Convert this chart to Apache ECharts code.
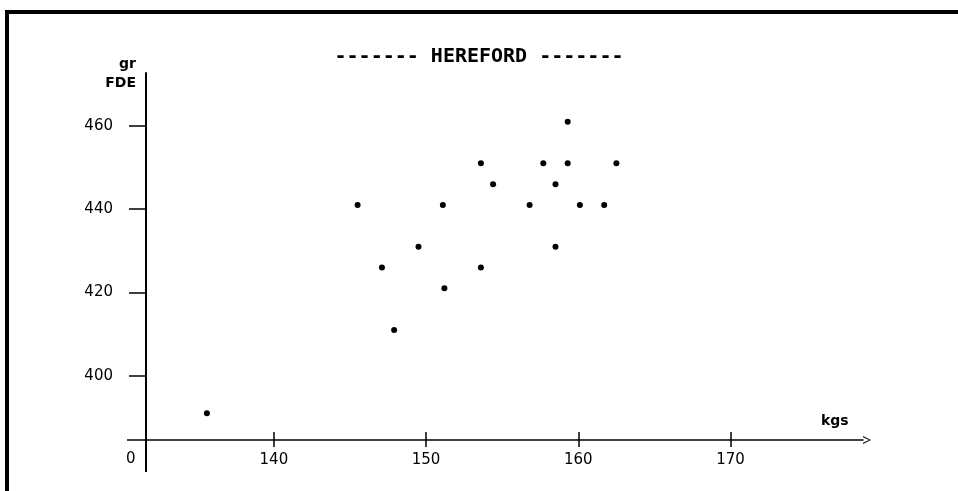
<!DOCTYPE html>
<html>
<head>
<meta charset="utf-8">
<script src="https://cdn.jsdelivr.net/npm/echarts@6/dist/echarts.min.js"></script>
<style>html,body{margin:0;padding:0;background:#fff}#c{width:958px;height:491px}</style>
</head>
<body>
<div id="c"></div>
<script>
// weight (kgs) and FDE (gr)
const kgs = [159.3,153.6,157.7,159.3,162.5,154.4,158.5,145.5,151.1,156.8,160.1,161.7,149.5,158.5,147.1,153.6,151.2,147.9,135.6];
const fde = [461,451,451,451,451,446,446,441,441,441,441,441,431,431,426,426,421,411,391];
const xTicks = [140,150,160,170];
const yTicks = [400,420,440,460];
const titleText = '------- HEREFORD -------';

const points = kgs.map((v,i)=>[v,fde[i]]);
const chart = echarts.init(document.getElementById('c'));
const font = 'DejaVu Sans';
chart.setOption({
  animation:false,
  backgroundColor:'#fff',
  title:{text:titleText,left:'center',top:42,textStyle:{fontFamily:'DejaVu Sans Mono',fontSize:20,fontWeight:'bold',color:'#000'}},
  grid:{left:146,right:95,top:73,bottom:51},
  xAxis:[{
    type:'value',min:131.6,max:178.7,
    splitLine:{show:false},
    axisLine:{lineStyle:{color:'#000',width:1.5},symbol:['none','path://M0,10 L5,0 L10,10 L8.5,10 L5,2.5 L1.5,10 Z'],symbolSize:[10,8],symbolOffset:[0,4]},
    axisTick:{customValues:xTicks,length:7,lineStyle:{color:'#000',width:1.5}},
    axisLabel:{customValues:xTicks,margin:13,fontFamily:font,fontSize:15,color:'#000'},
    name:'kgs',nameLocation:'end',nameGap:-42,
    nameTextStyle:{fontFamily:font,fontSize:14,fontWeight:'bold',color:'#000',verticalAlign:'bottom',padding:[0,0,12,0]}
  },{
    type:'value',min:131.6,max:178.7,position:'bottom',
    splitLine:{show:false},axisLine:{show:false},axisLabel:{show:false},
    axisTick:{customValues:xTicks,inside:true,length:8,lineStyle:{color:'#000',width:1.5}}
  }],
  yAxis:{
    type:'value',min:384.57,max:472.7,
    splitLine:{show:false},
    axisLine:{show:true,lineStyle:{color:'#000',width:2}},
    axisTick:{show:true,customValues:yTicks,length:17,lineStyle:{color:'#000',width:1.5}},
    axisLabel:{customValues:yTicks,margin:33,fontFamily:font,fontSize:15,color:'#000'},
    name:'gr\nFDE',nameLocation:'end',nameGap:-1,
    nameTextStyle:{fontFamily:font,fontSize:14,fontWeight:'bold',color:'#000',align:'right',verticalAlign:'middle',lineHeight:19,padding:[0,10,0,0]}
  },
  series:[{type:'scatter',data:points,symbolSize:6,itemStyle:{color:'#000',opacity:1}}],
  graphic:[
    {type:'line',shape:{x1:7,y1:12,x2:958,y2:12},style:{stroke:'#000',lineWidth:4}},
    {type:'line',shape:{x1:7,y1:10,x2:7,y2:491},style:{stroke:'#000',lineWidth:4}},
    {type:'line',shape:{x1:127,y1:440,x2:146,y2:440},style:{stroke:'#000',lineWidth:1.5}},
    {type:'line',shape:{x1:146,y1:440,x2:146,y2:472},style:{stroke:'#000',lineWidth:2}},
    {type:'text',left:126,top:452,style:{text:'0',fontFamily:font,fontSize:15,fill:'#000'}}
  ]
});
</script>
</body>
</html>
